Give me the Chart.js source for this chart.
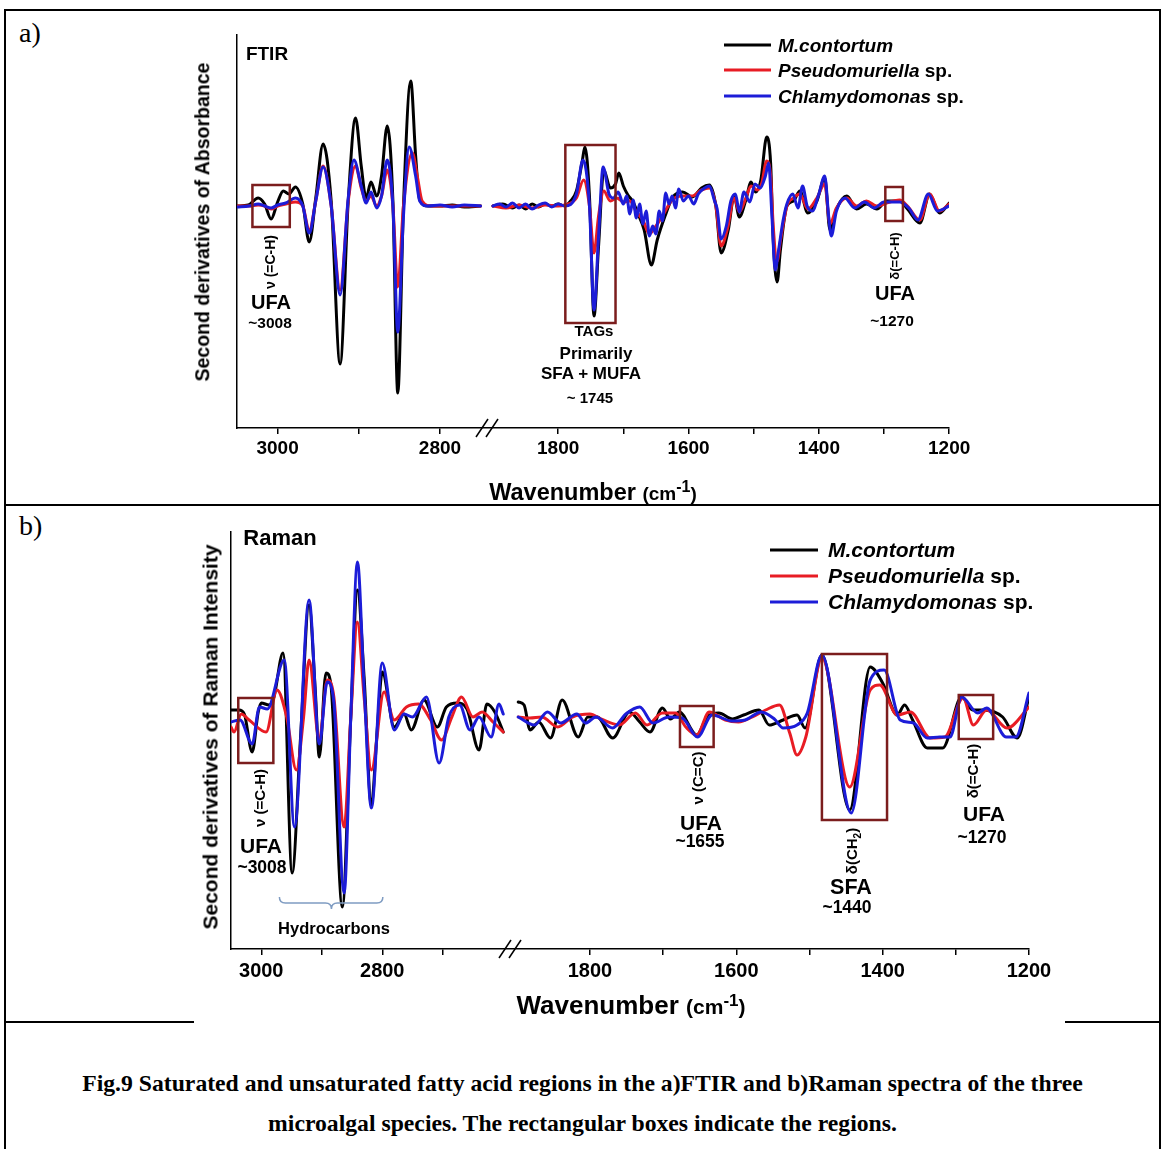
<!DOCTYPE html>
<html>
<head>
<meta charset="utf-8">
<title>Fig.9 FTIR / Raman second derivatives</title>
<script src="https://cdn.jsdelivr.net/npm/chart.js@4.4.1/dist/chart.umd.min.js"></script>
<style>
    body { margin: 0; background: #fff; }
    #page { position: relative; width: 1161px; height: 1149px; overflow: hidden; font-family: Arial, "Liberation Sans", sans-serif; color: #000; }
    canvas { position: absolute; left: 0; }
    .ln { position: absolute; background: #000; }
    .t { position: absolute; font-weight: bold; white-space: nowrap; transform: translate(-50%, -50%); line-height: 1; }
    .rot { transform: translate(-50%, -50%) rotate(-90deg); }
    .lg { position: absolute; font-weight: bold; white-space: nowrap; transform: translateY(-50%); line-height: 1; }
    .lg i { font-style: italic; }
    .sw { display: inline-block; width: 47px; height: 3px; vertical-align: middle; margin-right: 7px; position: relative; top: -1px; }
    .lab { position: absolute; font-family: "Liberation Serif", "Times New Roman", serif; font-size: 28px; }
    .cap { position: absolute; left: 5px; width: 1155px; text-align: center; font-family: "Liberation Serif", "Times New Roman", serif; font-weight: bold; font-size: 23.7px; transform: translateY(-50%); }
</style>
</head>
<body>
<div id="page">
    <!-- table frame -->
    <div class="ln" style="left:4px;top:9px;width:1157px;height:2px"></div>
    <div class="ln" style="left:4px;top:9px;width:2px;height:1140px"></div>
    <div class="ln" style="left:1159px;top:9px;width:2px;height:1140px"></div>
    <div class="ln" style="left:4px;top:504px;width:1157px;height:1.5px"></div>
    <div class="ln" style="left:4px;top:1021px;width:190px;height:1.5px"></div>
    <div class="ln" style="left:1065px;top:1021px;width:96px;height:1.5px"></div>
    <div class="lab" style="left:19px;top:17px">a)</div>
    <div class="lab" style="left:19px;top:510px">b)</div>

    <canvas id="ftirChart" width="1161" height="505" style="top:0"></canvas>
    <canvas id="ramanChart" width="1161" height="517" style="top:505px"></canvas>

    <!-- panel a text -->
    <div class="t" style="left:267px;top:53px;font-size:19px">FTIR</div>
    <div class="t rot" style="left:203px;top:222px;font-size:19.5px">Second derivatives of Absorbance</div>
    <div class="t" style="left:593px;top:492px;font-size:23.5px">Wavenumber <span style="font-size:19px">(cm<sup style="font-size:16px">-1</sup>)</span></div>
    <div class="lg" style="left:724px;top:45px;font-size:19px"><span class="sw" style="background:#000"></span><i>M.contortum</i></div>
    <div class="lg" style="left:724px;top:70px;font-size:19px"><span class="sw" style="background:#e81c24"></span><i>Pseudomuriella</i> sp.</div>
    <div class="lg" style="left:724px;top:96px;font-size:19px"><span class="sw" style="background:#1c1cd8"></span><i>Chlamydomonas</i> sp.</div>
    <div class="t rot" style="left:270px;top:262px;font-size:14px">ν (=C-H)</div>
    <div class="t" style="left:271px;top:302px;font-size:20px">UFA</div>
    <div class="t" style="left:270px;top:323px;font-size:15.5px">~3008</div>
    <div class="t" style="left:594px;top:330px;font-size:15px">TAGs</div>
    <div class="t" style="left:596px;top:353px;font-size:17px">Primarily</div>
    <div class="t" style="left:591px;top:373px;font-size:17px">SFA + MUFA</div>
    <div class="t" style="left:590px;top:397px;font-size:15px">~ 1745</div>
    <div class="t rot" style="left:894px;top:256px;font-size:13px">δ(=C-H)</div>
    <div class="t" style="left:895px;top:293px;font-size:20px">UFA</div>
    <div class="t" style="left:892px;top:321px;font-size:15.5px">~1270</div>

    <!-- panel b text -->
    <div class="t" style="left:280px;top:538px;font-size:22px">Raman</div>
    <div class="t rot" style="left:210px;top:737px;font-size:21px">Second derivatives of Raman Intensity</div>
    <div class="t" style="left:631px;top:1005px;font-size:26px">Wavenumber <span style="font-size:21px">(cm<sup style="font-size:17px">-1</sup>)</span></div>
    <div class="lg" style="left:770px;top:549px;font-size:21px"><span class="sw" style="background:#000;width:48px;margin-right:10px"></span><i>M.contortum</i></div>
    <div class="lg" style="left:770px;top:575px;font-size:21px"><span class="sw" style="background:#e81c24;width:48px;margin-right:10px"></span><i>Pseudomuriella</i> sp.</div>
    <div class="lg" style="left:770px;top:601px;font-size:21px"><span class="sw" style="background:#1c1cd8;width:48px;margin-right:10px"></span><i>Chlamydomonas</i> sp.</div>
    <div class="t rot" style="left:259px;top:798px;font-size:15px">ν (=C-H)</div>
    <div class="t" style="left:261px;top:845px;font-size:21px">UFA</div>
    <div class="t" style="left:262px;top:868px;font-size:17.5px">~3008</div>
    <div class="t" style="left:334px;top:928px;font-size:16.5px">Hydrocarbons</div>
    <div class="t rot" style="left:697px;top:778px;font-size:15px">ν (C=C)</div>
    <div class="t" style="left:701px;top:822px;font-size:21px">UFA</div>
    <div class="t" style="left:700px;top:842px;font-size:17.5px">~1655</div>
    <div class="t rot" style="left:853px;top:851px;font-size:15px">δ(CH<sub style="font-size:10px">2</sub>)</div>
    <div class="t" style="left:851px;top:888px;font-size:21.5px">SFA</div>
    <div class="t" style="left:847px;top:908px;font-size:17.5px">~1440</div>
    <div class="t rot" style="left:972px;top:771px;font-size:15px">δ(=C-H)</div>
    <div class="t" style="left:984px;top:813px;font-size:21px">UFA</div>
    <div class="t" style="left:982px;top:838px;font-size:17.5px">~1270</div>

    <div class="cap" style="top:1083px">Fig.9 Saturated and unsaturated fatty acid regions in the a)FTIR and b)Raman spectra of the three</div>
    <div class="cap" style="top:1123px">microalgal species. The rectangular boxes indicate the regions.</div>
</div>

<script>
// Values: wavenumber (cm-1) and second derivative (a.u., 0 = baseline)

// a) FTIR
const ftirWnM = [3050, 3036, 3024, 3016, 3008, 3000, 2993, 2986, 2978, 2969, 2961, 2953, 2944, 2934, 2923, 2913, 2904, 2897, 2891, 2885, 2878, 2872, 2865, 2858, 2852, 2845, 2836, 2830, 2825, 2815, 2800, 2785, 2770, 2750,
    1900, 1885, 1870, 1860, 1850, 1840, 1830, 1820, 1810, 1800, 1790, 1781, 1772, 1763, 1759, 1752, 1745, 1738, 1730, 1720, 1712, 1707, 1700, 1693, 1685, 1678, 1668, 1657, 1648, 1636,
    1624, 1609, 1594, 1580, 1568, 1558, 1550, 1539, 1530, 1522, 1512, 1504, 1497, 1489, 1480, 1474, 1470, 1464, 1459, 1449, 1439, 1429, 1417, 1403, 1391, 1383, 1373, 1357, 1342, 1327,
    1311, 1296, 1276, 1264, 1245, 1230, 1215, 1200];
const ftirM = [0, 1, 8, 2, -13, 4, 15, 12, 19, 2, -36, 8, 62, 5, -158, 5, 88, 40, 8, 24, 10, 30, 80, 5, -187, 0, 125, 50, 6, 0, 0, 1, -1, 0,
    0, 2, -2, 1, -3, 2, -1, 2, 0, 2, 0, 5, 15, 45, 59, 10, -110, -40, 36, 18, 22, 33, 20, 11, 4, -7, -24, -59, -34, -10,
    9, 14, 9, 18, 21, 0, -47, -24, 10, -11, 6, 24, 14, 26, 69, 43, -34, -76, -44, 0, 5, 15, -7, 5, 28, -24, -3, 10, -3, 2,
    -3, 5, 5, -3, -17, 12, -7, 3];

const ftirWnP = [3050, 3035, 3024, 3016, 3008, 3000, 2990, 2978, 2969, 2961, 2953, 2944, 2934, 2923, 2913, 2904, 2897, 2891, 2885, 2878, 2872, 2865, 2858, 2852, 2845, 2834, 2828, 2822, 2810, 2790, 2770, 2750,
    1900, 1880, 1860, 1840, 1820, 1800, 1790, 1772, 1761, 1752, 1745, 1738, 1730, 1720, 1710, 1700, 1690, 1680, 1670, 1660, 1652, 1640, 1625, 1610, 1595, 1580,
    1568, 1558, 1550, 1540, 1530, 1522, 1512, 1504, 1495, 1488, 1480, 1474, 1470, 1464, 1459, 1449, 1439, 1429, 1417, 1403, 1391, 1383, 1373, 1357, 1342, 1327,
    1311, 1296, 1285, 1276, 1264, 1245, 1230, 1215, 1200];
const ftirP = [0, 0, 1, 0, -3, 0, 2, 4, 0, -25, 5, 40, 0, -84, 5, 40, 18, 5, 10, 0, 10, 36, 0, -81, 0, 53, 30, 5, 0, 0, 0, 0,
    0, -2, 1, -2, 1, 0, 1, 8, 26, 0, -47, -10, 15, 5, 8, 4, 5, -6, -14, -28, -22, -10, 6, 10, 10, 16,
    18, 0, -40, -22, 8, -6, 8, 20, 16, 22, 45, 30, -20, -55, -35, 0, 8, 12, -3, 8, 22, -18, -2, 8, 0, 5,
    0, 3, 5, 6, 0, -14, 12, -5, 2];

const ftirWnC = [3050, 3035, 3024, 3016, 3008, 3000, 2990, 2978, 2969, 2961, 2953, 2944, 2934, 2923, 2913, 2906, 2897, 2891, 2885, 2878, 2872, 2865, 2858, 2852, 2845, 2838, 2830, 2825, 2815, 2800, 2785, 2770, 2750,
    1900, 1890, 1880, 1870, 1860, 1850, 1840, 1830, 1820, 1810, 1800, 1790, 1772, 1762, 1752, 1745, 1738, 1731, 1722, 1715, 1708, 1700, 1695, 1690, 1685, 1680, 1675, 1670, 1665, 1660,
    1655, 1650, 1645, 1640, 1635, 1630, 1625, 1620, 1615, 1608, 1600, 1592, 1585, 1575, 1568, 1560, 1556, 1550, 1542, 1535, 1528, 1522, 1515, 1506, 1498, 1490, 1482, 1477, 1472, 1467,
    1462, 1455, 1449, 1440, 1432, 1425, 1418, 1410, 1400, 1391, 1385, 1381, 1373, 1360, 1345, 1330, 1315, 1300, 1285, 1276, 1262, 1248, 1232, 1218, 1200];
const ftirC = [-1, 0, 2, 0, -2, 1, 3, 8, 0, -27, 5, 39, 0, -89, 8, 46, 20, 3, 14, -2, 10, 46, 0, -126, -10, 59, 30, 5, 0, 1, -1, 1, 0,
    0, 2, -1, 3, -2, 2, -3, 1, 3, -1, 2, 0, 12, 46, 0, -104, -30, 39, 12, 8, 14, 2, 10, -8, 6, -12, 2, -18, -5, -30,
    -20, -28, -5, -15, 13, 2, 10, -2, 17, 5, 10, 2, 12, 18, 20, 5, -3, -33, -20, 5, 12, -6, 14, 4, 22, 18, 30, 43, -10, -64,
    -45, -15, 2, 12, -2, 20, 0, -5, 12, 30, -10, -30, -5, 8, -2, 4, -2, 4, 4, 4, -2, -14, 12, -5, 0];

// b) Raman
const ramanWnM = [3050, 3037, 3028, 3015, 3005, 3000, 2987, 2979, 2964, 2949, 2935, 2921, 2911, 2904, 2893, 2885, 2866, 2852, 2841, 2830, 2818, 2808, 2800, 2780, 2764, 2752, 2731, 2709, 2694, 2676, 2660, 2640, 2627, 2614, 2600,
    1898, 1890, 1882, 1870, 1854, 1838, 1816, 1803, 1790, 1769, 1746, 1732, 1718, 1701, 1690, 1678, 1654, 1640, 1624, 1605,
    1590, 1569, 1555, 1536, 1517, 1506, 1483, 1445, 1417, 1400, 1380, 1370, 1359, 1339, 1318, 1292, 1277, 1263, 1236, 1216, 1200];
const ramanM = [7, 7, 3, -35, 5, 14, 12, 20, 64, -156, -20, 112, 30, -40, 44, 33, -190, 0, 127, 40, -88, -10, 45, -10, 3, -13, 17, -10, 10, 14, 8, -33, 13, 5, -15,
    15, 12, -13, -5, -21, 17, -20, 0, 0, -21, 5, -5, -15, 9, -2, 5, -18, 0, 4, -2,
    2, 7, -8, -3, 2, -11, 62, -93, 50, 34, 2, 12, -3, -31, -31, 20, 7, 7, 0, -21, 20];

const ramanWnP = [3050, 3045, 3033, 3020, 2992, 2974, 2958, 2942, 2930, 2921, 2904, 2891, 2880, 2863, 2852, 2841, 2830, 2818, 2797, 2780, 2760, 2740, 2720, 2702, 2685, 2669, 2650, 2635, 2617, 2600,
    1898, 1882, 1866, 1844, 1824, 1800, 1785, 1760, 1738, 1722, 1701, 1683, 1669, 1654, 1637, 1615, 1597, 1578,
    1560, 1541, 1527, 1517, 1505, 1483, 1445, 1417, 1404, 1380, 1362, 1335, 1315, 1290, 1276, 1258, 1230, 1200];
const ramanP = [-10, -15, 3, -3, -15, 27, 0, -53, 0, 57, -23, 37, 20, -110, 0, 95, 20, -53, 25, -3, 10, 13, -3, -23, 0, 20, 0, 5, -5, -15,
    0, -1, 0, -10, 0, 3, -2, -8, 4, -8, 4, 4, -10, -18, 5, -3, -5, 0,
    7, 12, -16, -38, -20, 59, -70, 27, 32, 2, 5, -21, -20, 19, -8, 7, -11, 10];

const ramanWnC = [3050, 3035, 3015, 3003, 2990, 2962, 2945, 2921, 2904, 2891, 2880, 2863, 2852, 2841, 2830, 2818, 2800, 2780, 2764, 2750, 2727, 2706, 2690, 2672, 2655, 2640, 2620, 2607, 2600,
    1898, 1876, 1858, 1840, 1818, 1806, 1792, 1769, 1751, 1732, 1714, 1692, 1674, 1653, 1633, 1606, 1588, 1566,
    1548, 1536, 1517, 1503, 1483, 1443, 1417, 1398, 1376, 1358, 1339, 1322, 1308, 1292, 1270, 1258, 1231, 1218, 1200];
const ramanC = [-5, -3, -27, 10, 8, 57, -110, 117, -27, 35, 15, -176, 0, 155, 30, -91, 54, -13, 3, 0, 20, -46, 0, 12, -13, 0, -20, 13, 3,
    0, -8, 5, -6, 3, -6, 0, -11, 3, 10, -6, 0, -1, -20, 2, -4, -3, 5,
    -2, -11, -8, 4, 62, -96, 37, 47, -3, -6, -21, -20, -20, 20, 4, 9, -20, -20, 24];

// tick labels
const majorTicks = [3000, 2800, 1800, 1600, 1400, 1200];
const ftirMinorTicks = [2900, 1700, 1500, 1300];
const ramanMinorTicks = [2900, 2700, 1700, 1500, 1300];

// highlighted regions: [wn from, wn to, top, bottom]
const ftirBoxes = [[3031, 2985, 21, -21], [1789, 1712, 61, -117], [1298, 1271, 19, -15]];
const ramanBoxes = [[3038, 2980, 19, -46], [1677, 1631, 11, -30], [1483, 1394, 63, -103], [1296, 1249, 22, -22]];

const seriesNames = ['M.contortum', 'Pseudomuriella sp.', 'Chlamydomonas sp.'];
const seriesColors = ['#000000', '#e81c24', '#1c1cd8'];
const boxColor = '#7b1d1d';

// broken axis: high range and low range drawn with different widths
function makeMapper(ax) {
    return w => w > 2000 ? (ax.hiStart - w) * ax.hiK : ax.loOffset + (ax.loStart - w) * ax.loK;
}

function buildPoints(wn, vals, map) {
    const pts = [];
    wn.forEach((w, i) => {
        if (i > 0 && wn[i - 1] > 2000 && w < 2000) {
            pts.push({ x: (map(wn[i - 1]) + map(w)) / 2, y: null });
        }
        pts.push({ x: map(w), y: vals[i] });
    });
    return pts;
}

function makeChart(canvasId, cfg) {
    const map = makeMapper(cfg.axis);
    const tickDefs = majorTicks.map(w => ({ value: map(w), label: String(w) }))
        .concat(cfg.minor.map(w => ({ value: map(w), label: '' })))
        .sort((a, b) => a.value - b.value);

    const datasets = cfg.series.map((s, i) => ({
        label: seriesNames[i],
        data: buildPoints(s.wn, s.vals, map),
        borderColor: seriesColors[i],
        borderWidth: 3,
        pointRadius: 0,
        cubicInterpolationMode: 'monotone',
        borderJoinStyle: 'round',
        borderCapStyle: 'round',
        spanGaps: false,
        order: 2 - i
    }));

    const extras = {
        id: 'extras',
        afterDatasetsDraw(chart) {
            const ctx = chart.ctx;
            const xs = chart.scales.x, ys = chart.scales.y;
            ctx.save();
            ctx.strokeStyle = boxColor;
            ctx.lineWidth = 2.5;
            cfg.boxes.forEach(b => {
                const x1 = xs.getPixelForValue(map(b[0])), x2 = xs.getPixelForValue(map(b[1]));
                const y1 = ys.getPixelForValue(b[2]), y2 = ys.getPixelForValue(b[3]);
                ctx.strokeRect(x1, y1, x2 - x1, y2 - y1);
            });
            ctx.restore();
        },
        afterDraw(chart) {
            const ctx = chart.ctx;
            const xs = chart.scales.x;
            // break marks on the x axis
            const bx = xs.getPixelForValue(cfg.breakAt);
            const by = xs.top;
            ctx.save();
            ctx.strokeStyle = '#000';
            ctx.lineWidth = 1.5;
            [-5, 5].forEach(off => {
                ctx.beginPath();
                ctx.moveTo(bx + off - 6, by + 9);
                ctx.lineTo(bx + off + 6, by - 9);
                ctx.stroke();
            });
            // brace under the hydrocarbon bands
            if (cfg.brace) {
                const ys = chart.scales.y;
                const xa = xs.getPixelForValue(map(cfg.brace[0]));
                const xb = xs.getPixelForValue(map(cfg.brace[1]));
                const xm = xs.getPixelForValue(map(cfg.brace[2]));
                const y0 = ys.getPixelForValue(cfg.brace[3]);
                ctx.strokeStyle = '#7f9cc2';
                ctx.lineWidth = 1.5;
                ctx.beginPath();
                ctx.moveTo(xa, y0);
                ctx.quadraticCurveTo(xa, y0 + 6, xa + 6, y0 + 6);
                ctx.lineTo(xm - 6, y0 + 6);
                ctx.quadraticCurveTo(xm, y0 + 6, xm, y0 + 12);
                ctx.quadraticCurveTo(xm, y0 + 6, xm + 6, y0 + 6);
                ctx.lineTo(xb - 6, y0 + 6);
                ctx.quadraticCurveTo(xb, y0 + 6, xb, y0);
                ctx.stroke();
            }
            ctx.restore();
        }
    };

    return new Chart(document.getElementById(canvasId), {
        type: 'line',
        data: { datasets: datasets },
        options: {
            responsive: false,
            animation: false,
            devicePixelRatio: 1,
            layout: { padding: cfg.padding },
            plugins: { legend: { display: false }, tooltip: { enabled: false } },
            scales: {
                x: {
                    type: 'linear',
                    min: 0,
                    max: cfg.axis.max,
                    afterBuildTicks: s => { s.ticks = tickDefs.map(t => ({ value: t.value })); },
                    afterFit: s => { s.height = 30; },
                    ticks: {
                        autoSkip: false,
                        maxRotation: 0,
                        color: '#000',
                        padding: cfg.tickPad,
                        font: { family: 'Arial', size: cfg.tickSize, weight: 'bold' },
                        callback: (v, i) => tickDefs[i] ? tickDefs[i].label : ''
                    },
                    grid: { display: true, drawOnChartArea: false, drawTicks: true, tickLength: 6, color: '#000', lineWidth: 1.5 },
                    border: { display: true, color: '#000', width: 1.5 }
                },
                y: {
                    min: cfg.yMin,
                    max: cfg.yMax,
                    ticks: { display: false },
                    grid: { display: false, drawTicks: false },
                    border: { display: true, color: '#000', width: 1.5 }
                }
            }
        },
        plugins: [extras]
    });
}

document.addEventListener('DOMContentLoaded', function() {
    makeChart('ftirChart', {
        axis: { hiStart: 3050, hiK: 0.812, loStart: 1900, loOffset: 256, loK: 0.6517, max: 712 },
        series: [
            { wn: ftirWnM, vals: ftirM },
            { wn: ftirWnP, vals: ftirP },
            { wn: ftirWnC, vals: ftirC }
        ],
        minor: ftirMinorTicks,
        boxes: ftirBoxes,
        breakAt: 250,
        yMin: -222,
        yMax: 171,
        padding: { left: 237, right: 212, top: 35, bottom: 47 },
        tickSize: 19,
        tickPad: 3
    });

    makeChart('ramanChart', {
        axis: { hiStart: 3050, hiK: 0.605, loStart: 1900, loOffset: 285.8, loK: 0.7317, max: 798 },
        series: [
            { wn: ramanWnM, vals: ramanM },
            { wn: ramanWnP, vals: ramanP },
            { wn: ramanWnC, vals: ramanC }
        ],
        minor: ramanMinorTicks,
        boxes: ramanBoxes,
        breakAt: 279,
        brace: [2970, 2799, 2884, -180],
        yMin: -232,
        yMax: 185,
        padding: { left: 231, right: 132, top: 27, bottom: 43 },
        tickSize: 20,
        tickPad: 4
    });
});
</script>
</body>
</html>
